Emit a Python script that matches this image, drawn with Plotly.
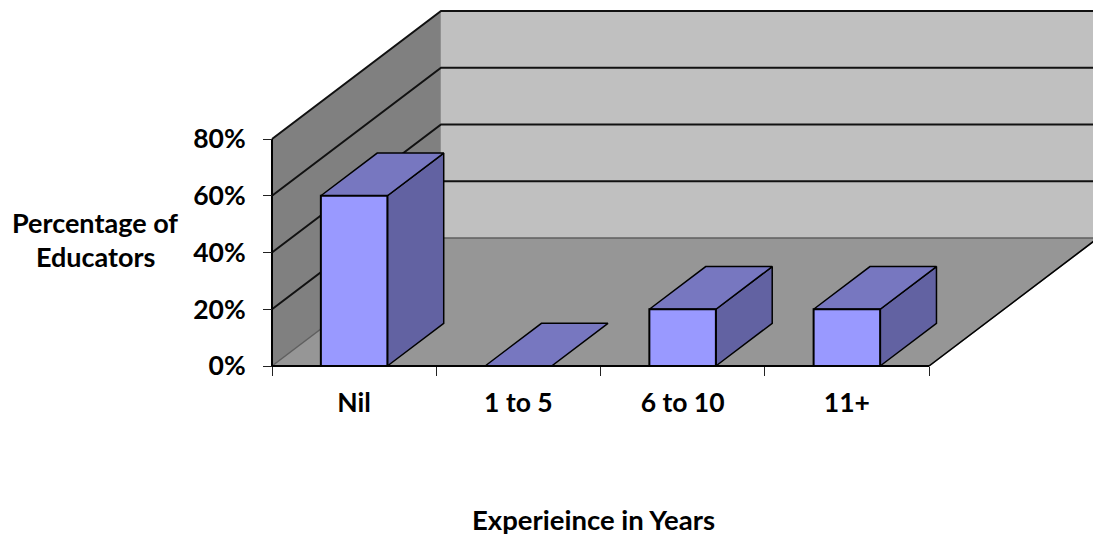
import plotly.graph_objects as go

# --- data ---
categories = ["Nil", "1 to 5", "6 to 10", "11+"]
values = [60, 0, 20, 20]
y_ticks = [0, 20, 40, 60, 80]
y_tick_labels = ["0%", "20%", "40%", "60%", "80%"]
x_title = "Experieince in Years"
y_title_lines = ["Percentage of", "Educators"]

# --- style / geometry ---
W, H = 1093, 538
PX0, PX1 = 272, 929      # front plane x0, x4 in pixels
PY0, PY80 = 366, 139     # front plane 0%, 80% in pixels
DX_PX, DY_PX = 169, 128  # oblique offset of full depth
n = len(categories)
ymax = y_ticks[-1]
px_per_cat = (PX1 - PX0) / n
px_per_pct = (PY0 - PY80) / ymax
DX = DX_PX / px_per_cat
DY = DY_PX / px_per_pct
BAR_W = 0.405
BAR_D = 1 / 3
FONT = "Lato"
FS_TICK = 26.5
FS_TITLE = 27

C_WALL_L, C_WALL_B, C_FLOOR = "#808080", "#C0C0C0", "#969696"
C_FRONT, C_TOP, C_SIDE = "#9999FF", "#7777C0", "#6262A2"


def proj(x, v, d=0.0):
    return x + d * DX, v + d * DY


def poly(pts, fill=None, line="black", lw=2):
    xs, ys = zip(*pts)
    return go.Scatter(
        x=list(xs), y=list(ys), mode="lines", hoverinfo="skip", showlegend=False,
        fill="toself" if fill else None, fillcolor=fill,
        line=dict(color=line, width=lw),
    )


fig = go.Figure()
# walls and floor
fig.add_trace(poly([proj(0, 0), proj(0, ymax), proj(0, ymax, 1), proj(0, 0, 1), proj(0, 0)], C_WALL_L, C_WALL_L, 0.5))
fig.add_trace(poly([proj(0, 0, 1), proj(0, ymax, 1), proj(n, ymax, 1), proj(n, 0, 1), proj(0, 0, 1)], C_WALL_B, C_WALL_B, 0.5))
fig.add_trace(poly([proj(0, 0), proj(n, 0), proj(n, 0, 1), proj(0, 0, 1), proj(0, 0)], C_FLOOR, "#5f5f5f", 1.5))
# gridlines
for t in y_ticks[1:]:
    fig.add_trace(poly([proj(0, t), proj(0, t, 1), proj(n, t, 1)], None, "#111111", 2))
# bars
for i, v in enumerate(values):
    x0 = i + 0.5 - BAR_W / 2
    x1 = i + 0.5 + BAR_W / 2
    if v > 0:
        fig.add_trace(poly([proj(x1, 0), proj(x1, v), proj(x1, v, BAR_D), proj(x1, 0, BAR_D), proj(x1, 0)], C_SIDE, "black", 1.5))
    fig.add_trace(poly([proj(x0, v), proj(x1, v), proj(x1, v, BAR_D), proj(x0, v, BAR_D), proj(x0, v)], C_TOP, "black", 1.5))
    if v > 0:
        fig.add_trace(poly([proj(x0, 0), proj(x0, v), proj(x1, v), proj(x1, 0), proj(x0, 0)], C_FRONT, "black", 2))
# front axis lines
fig.add_trace(poly([proj(0, 0), proj(0, ymax)], None, "black", 2))
fig.add_trace(poly([proj(0, 0), proj(n, 0)], None, "black", 2))
fig.add_trace(poly([proj(n, 0), proj(n, 0, 1)], None, "black", 1.5))

tick_font = dict(family=FONT, size=FS_TICK, color="black", weight="bold")


def title_note(text, px, py, size=FS_TITLE):
    return dict(xref="paper", yref="paper", x=px / W, y=1 - py / H, text=f"<b>{text}</b>",
                xanchor="center", yanchor="middle", showarrow=False,
                font=dict(family=FONT, size=size, color="black"))


fig.update_layout(
    width=W, height=H, margin=dict(l=0, r=0, t=0, b=0),
    paper_bgcolor="white", plot_bgcolor="white", showlegend=False,
    font=dict(family=FONT, size=FS_TICK, color="black"),
    xaxis=dict(
        range=[-PX0 / px_per_cat, (W - PX0) / px_per_cat],
        showgrid=False, zeroline=False, showline=False, fixedrange=True,
        anchor="free", position=(H - PY0) / H,
        tickmode="array", tickvals=[i + 0.5 for i in range(n)], ticktext=categories,
        ticks="", tickfont=tick_font, ticklabelstandoff=18,
        minor=dict(tickmode="array", tickvals=list(range(n + 1)), ticks="outside",
                   ticklen=9, tickwidth=1, tickcolor="#222222", showgrid=False),
    ),
    yaxis=dict(
        range=[-(H - PY0) / px_per_pct, PY0 / px_per_pct],
        showgrid=False, zeroline=False, showline=False, fixedrange=True,
        anchor="free", position=PX0 / W,
        tickmode="array", tickvals=y_ticks, ticktext=y_tick_labels,
        ticks="outside", ticklen=9, tickwidth=1, tickcolor="#222222",
        tickfont=tick_font, ticklabelstandoff=12,
    ),
    annotations=[
        title_note(x_title, 593, 519, 27.5),
        title_note(y_title_lines[0], 95, 222),
        title_note(y_title_lines[1], 95, 256),
    ],
)
fig.write_html("out.html", config=dict(displayModeBar=False),
               post_script="document.body.style.margin='0';")
